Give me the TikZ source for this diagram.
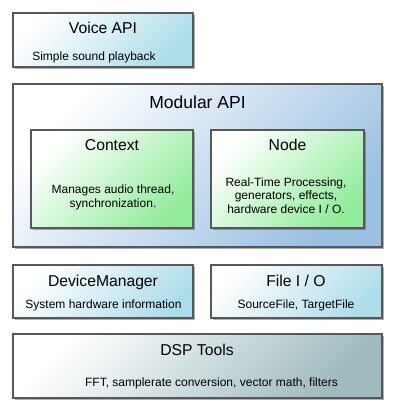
\documentclass[tikz,border=0pt]{standalone}
\usepackage{fontspec}
\setmainfont{Liberation Sans}
\usetikzlibrary{shadows}
\definecolor{bluebr}{HTML}{AEDDEA}
\definecolor{modbr}{HTML}{9BC1E2}
\definecolor{greenbr}{HTML}{92EC9C}
\definecolor{dspbr}{HTML}{9FBBBF}
\definecolor{edge}{HTML}{585858}
\tikzset{
  box/.style={draw=edge, line width=1.4pt, rectangle, inner sep=0pt,
    drop shadow={shadow xshift=2.2pt, shadow yshift=-2.2pt, opacity=0.45, fill=black!70}},
  bluebox/.style={box, top color=white, bottom color=bluebr, shading angle=45},
  modbox/.style={box, top color=white, bottom color=modbr, shading angle=45},
  greenbox/.style={box, top color=white, bottom color=greenbr, shading angle=45},
  dspbox/.style={box, top color=white, bottom color=dspbr, shading angle=45},
  title/.style={font=\fontsize{15.7}{17}\selectfont, inner sep=0pt, anchor=base},
  bigtitle/.style={font=\fontsize{17.5}{19}\selectfont, inner sep=0pt, anchor=base},
  sub/.style={font=\fontsize{12}{13.5}\selectfont, inner sep=0pt, anchor=base, align=center},
}
\newcommand{\boxat}[6]{\node[#1, minimum width={(#4-#2)*1pt}, minimum height={(#5-#3)*1pt}] (#6) at ({(#2+#4)/2},{(#3+#5)/2}) {};}
\begin{document}
\begin{tikzpicture}[x=1pt,y=-1pt]
\useasboundingbox (0,0) rectangle (400,418);
\boxat{bluebox}{13}{13}{193}{67}{voice}
\boxat{modbox}{13}{84}{382}{247}{modular}
\boxat{greenbox}{31}{130}{193}{228}{context}
\boxat{greenbox}{211}{130}{364}{228}{nodebox}
\boxat{bluebox}{13}{265}{193}{318}{devmgr}
\boxat{bluebox}{211}{265}{382}{318}{fileio}
\boxat{dspbox}{13}{334}{382}{398}{dsp}

\node[title] (voicet) at (103,33.5) {Voice API};
\node[sub] (voices) at (94,60) {Simple sound playback};
\node[bigtitle] (modt) at (197.5,108.5) {Modular API};
\node[title] (contextt) at (112,150) {Context};
\node[sub] (contexts) at (113,207) {Manages audio thread,\\synchronization.};
\node[title] (nodet) at (287.5,150) {Node};
\node[sub] (nodes) at (286,213) {Real-Time Processing,\\generators, effects,\\hardware device I / O.};
\node[title] (devt) at (103,286) {DeviceManager};
\node[sub] (devs) at (103.5,308) {System hardware information};
\node[title] (filet) at (296,286) {File I / O};
\node[sub] (files) at (296,308) {SourceFile, TargetFile};
\node[title] (dspt) at (197,355) {DSP Tools};
\node[sub] (dsps) at (211.5,386) {FFT, samplerate conversion, vector math, filters};
\end{tikzpicture}
\end{document}
